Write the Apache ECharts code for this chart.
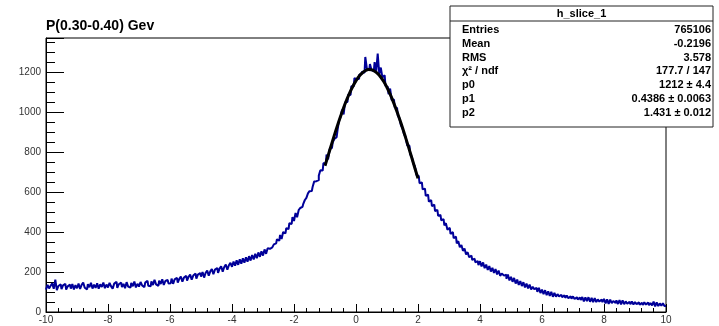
<!DOCTYPE html>
<html>
<head>
<meta charset="utf-8">
<script src="https://cdn.jsdelivr.net/npm/echarts@6/dist/echarts.min.js"></script>
<style>html,body{margin:0;padding:0;background:#fff}#c{width:719px;height:326px}</style>
</head>
<body>
<div id="c"></div>
<script>
// Histogram: bins of width 0.05 from -10 to 10 (counts)
const histMin = -10;
const binWidth = 0.05;
const counts = [
112,136,118,131,143,116,162,109,130,138,114,133,141,112,128,137,117,140,113,134,
119,142,115,136,147,121,113,139,124,146,117,137,121,143,116,139,125,147,119,137,
123,146,128,117,142,151,121,139,147,124,141,119,149,127,122,145,129,152,123,141,
127,150,133,124,147,156,131,128,153,135,161,138,131,157,140,164,135,155,160,143,
144,167,141,163,171,147,166,177,152,172,181,157,176,187,162,182,192,167,187,195,
177,200,172,196,207,182,203,215,189,212,220,196,217,229,202,225,237,211,234,246,
226,252,232,258,236,263,242,268,247,273,252,279,257,285,263,291,269,298,276,303,
282,313,291,319,316,323,329,338,343,364,356,385,365,400,393,419,415,444,440,475,
455,495,474,509,520,526,541,560,571,593,604,605,625,652,654,659,682,709,707,745,
740,787,763,814,821,849,865,874,904,956,973,1012,988,1049,1050,1087,1085,1129,1128,1170,
1163,1166,1185,1190,1202,1196,1275,1218,1209,1240,1210,1204,1249,1201,1292,1190,1222,1174,1184,1131,
1126,1089,1117,1060,1062,1023,1020,980,969,934,919,889,876,834,831,788,776,741,729,686,
679,644,648,613,617,580,587,552,559,529,537,504,511,481,486,458,465,433,444,411,
421,390,400,369,377,343,354,324,335,306,317,288,299,274,282,260,267,248,255,235,
254,228,248,219,237,210,230,202,221,195,215,188,207,181,192,182,186,166,187,158,
176,151,170,142,162,135,155,130,149,123,142,118,137,113,126,114,120,101,121,95,
112,89,109,84,103,81,101,76,96,77,89,78,86,74,84,71,82,69,79,67,
78,65,74,63,72,60,75,53,73,54,74,51,71,49,69,50,63,52,62,49,
66,43,63,41,62,44,55,45,58,40,60,38,58,39,53,41,51,39,52,38,
50,39,48,36,46,35,49,37,47,34,45,33,52,28,48,30,43,31,44,30
];
// Gaussian fit curve, sampled every 0.1 from -1.0 to 2.0
const fitStart = -1.0;
const fitStep = 0.1;
const fitValues = [731,782,833,883,931,977,1021,1061,1097,1129,1156,1179,1195,1206,1212,1211,1204,1192,1174,1151,1122,1089,1052,1011,967,921,872,822,771,719,668];

const title = 'P(0.30-0.40) Gev';
const statsName = 'h_slice_1';
const statsLabels = ['Entries', 'Mean', 'RMS', 'χ² / ndf', 'p0', 'p1', 'p2'];
const statsValues = ['765106', '-0.2196', '3.578', '177.7 / 147', '1212 ± 4.4', '0.4386 ± 0.0063', '1.431 ± 0.012'];

const xMin = -10, xMax = 10, xMajor = 2, xMinor = 0.4;
const yMin = 0, yMax = 1370, yMajor = 200, yMinor = 50;

// build data pairs
const histData = [];
histData.push([histMin, counts[0]]);
counts.forEach((c, i) => histData.push([histMin + (i + 0.5) * binWidth, c]));
histData.push([histMin + counts.length * binWidth, counts[counts.length - 1]]);
const fitData = fitValues.map((v, i) => [fitStart + i * fitStep, v]);

const FONT = 'Liberation Sans';
const chart = echarts.init(document.getElementById('c'), null, {renderer: 'canvas'});

const statsGraphics = [];
const bx = 450, by = 6, bw = 263, bh = 121;
statsGraphics.push({type: 'rect', shape: {x: bx, y: by, width: bw, height: bh}, style: {fill: '#fff', stroke: '#222', lineWidth: 1}, z: 100});
statsGraphics.push({type: 'line', shape: {x1: bx, y1: 21, x2: bx + bw, y2: 21}, style: {stroke: '#222', lineWidth: 1}, z: 101});
statsGraphics.push({type: 'text', x: bx + bw / 2, y: 14, style: {text: statsName, font: 'bold 11px ' + FONT, fill: '#000', align: 'center', verticalAlign: 'middle'}, z: 101});
statsLabels.forEach((lab, i) => {
  const yy = 30 + i * 13.8;
  statsGraphics.push({type: 'text', x: 462, y: yy, style: {text: lab, font: 'bold 11px ' + FONT, fill: '#000', align: 'left', verticalAlign: 'middle'}, z: 101});
  statsGraphics.push({type: 'text', x: 711, y: yy, style: {text: statsValues[i], font: 'bold 11px ' + FONT, fill: '#000', align: 'right', verticalAlign: 'middle'}, z: 101});
});

const option = {
  animation: false,
  backgroundColor: '#fff',
  grid: {left: 46, right: 53, top: 38, bottom: 14, show: true, borderColor: '#000', borderWidth: 1, backgroundColor: 'transparent', containLabel: false, outerBoundsMode: 'none'},
  xAxis: [
    {type: 'value', min: xMin, max: xMax, interval: xMajor, position: 'bottom',
     axisLine: {show: true, onZero: false, lineStyle: {color: '#000', width: 1}},
     axisTick: {show: true, inside: true, length: 8, lineStyle: {color: '#000', width: 1}},
     axisLabel: {show: true, margin: 3, fontSize: 10, fontFamily: FONT, color: '#333'},
     splitLine: {show: false}},
    {type: 'value', min: xMin, max: xMax, interval: xMinor, position: 'bottom',
     axisLine: {show: false, onZero: false},
     axisTick: {show: true, inside: true, length: 4, lineStyle: {color: '#000', width: 1}},
     axisLabel: {show: false}, splitLine: {show: false}}
  ],
  yAxis: [
    {type: 'value', min: yMin, max: yMax, interval: yMajor, position: 'left',
     axisLine: {show: true, onZero: false, lineStyle: {color: '#000', width: 1}},
     axisTick: {show: true, inside: true, length: 18, lineStyle: {color: '#000', width: 1}},
     axisLabel: {show: true, margin: 5, fontSize: 10, fontFamily: FONT, color: '#333',
       formatter: v => (Math.round(v) % yMajor === 0 ? String(Math.round(v)) : '')},
     splitLine: {show: false}},
    {type: 'value', min: yMin, max: yMax, interval: yMinor, position: 'left',
     axisLine: {show: false, onZero: false},
     axisTick: {show: true, inside: true, length: 9, lineStyle: {color: '#000', width: 1}},
     axisLabel: {show: false}, splitLine: {show: false}}
  ],
  graphic: [
    {type: 'text', left: 46, top: 19, style: {text: title, font: 'bold 14px ' + FONT, fill: '#000'}},
    ...statsGraphics
  ],
  series: [
    {type: 'line', name: 'hist', data: histData, xAxisIndex: 0, yAxisIndex: 0, step: 'middle', showSymbol: false,
     lineStyle: {color: '#000099', width: 2}, z: 2, clip: true},
    {type: 'line', name: 'fit', data: fitData, xAxisIndex: 0, yAxisIndex: 0, smooth: true, showSymbol: false,
     lineStyle: {color: '#000', width: 3}, z: 3}
  ]
};
chart.setOption(option);
</script>
</body>
</html>
